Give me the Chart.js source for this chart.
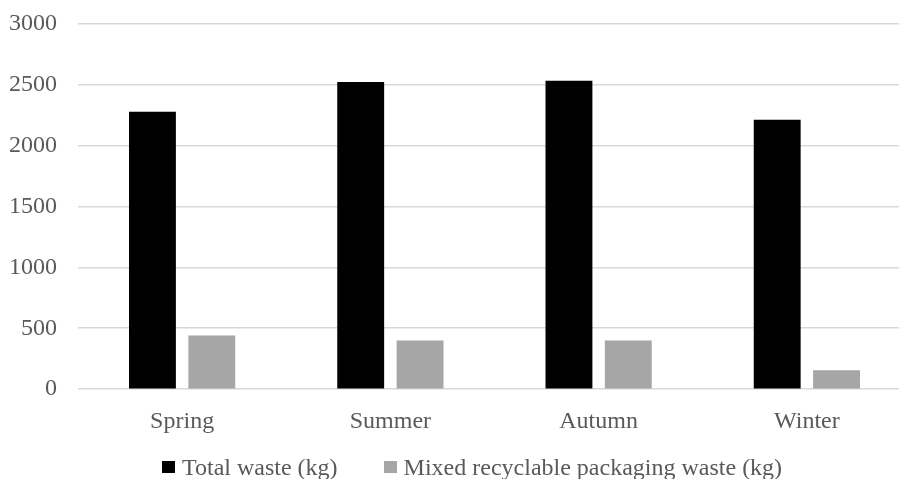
<!DOCTYPE html>
<html>
<head>
<meta charset="utf-8">
<script src="https://cdn.jsdelivr.net/npm/chart.js@4"></script>
<style>
  html, body { margin: 0; padding: 0; background: #ffffff; overflow: hidden; width: 899px; height: 479px; }
  #wrap { position: absolute; left: 0; top: -12px; width: 922px; height: 491px; }
  #legend { position: absolute; left: 162px; top: 455px; height: 24px; display: flex; align-items: center;
            font-family: 'Liberation Serif', 'Times New Roman', serif; font-size: 24px; color: #595959; line-height: 24px; white-space: nowrap; }
  .item { display: flex; align-items: center; margin-right: 46px; }
  .box { width: 13px; height: 12px; margin-right: 7px; }
</style>
</head>
<body>
<div id="wrap"><canvas id="c" width="922" height="491"></canvas></div>
<div id="legend"></div>
<script>
const categories = ["Spring", "Summer", "Autumn", "Winter"];
const totalWaste = [2275, 2520, 2530, 2210];
const mixedRecyclable = [440, 400, 400, 155];
const seriesNames = ["Total waste (kg)", "Mixed recyclable packaging waste (kg)"];
const seriesColors = ["#000000", "#a6a6a6"];

const textColor = "#595959";
const fontFamily = "'Liberation Serif', 'Times New Roman', serif";

const chart = new Chart(document.getElementById("c"), {
  type: "bar",
  data: {
    labels: categories,
    datasets: [
      { label: seriesNames[0], data: totalWaste, backgroundColor: seriesColors[0],
        categoryPercentage: 0.57, barPercentage: 0.79 },
      { label: seriesNames[1], data: mixedRecyclable, backgroundColor: seriesColors[1],
        categoryPercentage: 0.57, barPercentage: 0.79 }
    ]
  },
  options: {
    responsive: false,
    animation: false,
    devicePixelRatio: 1,
    layout: { padding: { top: 11, right: 11, left: 0, bottom: 25 } },
    plugins: {
      tooltip: { enabled: false },
      legend: { display: false }
    },
    scales: {
      x: {
        grid: { display: false, drawTicks: false },
        border: { display: false },
        ticks: { color: textColor, font: { family: fontFamily, size: 24 }, padding: 18 }
      },
      y: {
        min: 0, max: 3000,
        grid: { color: "#d9d9d9", lineWidth: 1.5, drawTicks: false },
        border: { display: false },
        ticks: { stepSize: 500, color: textColor, font: { family: fontFamily, size: 24 }, padding: 21,
                 callback: (v) => String(v) },
        afterFit: (s) => { s.width = 78; }
      }
    }
  }
});

const legendEl = document.getElementById("legend");
chart.data.datasets.forEach((ds) => {
  const item = document.createElement("div");
  item.className = "item";
  const box = document.createElement("span");
  box.className = "box";
  box.style.background = ds.backgroundColor;
  const txt = document.createElement("span");
  txt.textContent = ds.label;
  item.appendChild(box);
  item.appendChild(txt);
  legendEl.appendChild(item);
});
</script>
</body>
</html>
